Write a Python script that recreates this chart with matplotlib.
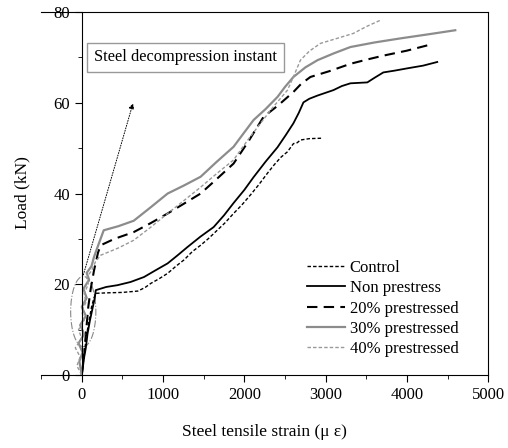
import numpy as np
import matplotlib.pyplot as plt
from matplotlib.patches import Ellipse
from matplotlib.ticker import MultipleLocator

plt.rcParams['font.family'] = ['Liberation Serif', 'DejaVu Serif']

# strain (micro-strain) vs load (kN)
control_x = [0, 20, 40, 60, 90, 120, 150, 172, 300, 500, 690, 780, 850, 950, 1056, 1160, 1260,
             1360, 1462, 1560, 1660, 1760, 1867, 1970, 2080, 2180, 2285, 2370, 2450, 2530,
             2604, 2650, 2690, 2800, 2960]
control_y = [0, 3, 6, 9, 12, 15, 17, 18, 18.1, 18.2, 18.5, 19.3, 20.2, 21.2, 22.4, 24, 25.4,
             27.2, 28.6, 30.1, 31.8, 33.5, 35.6, 37.5, 39.8, 42, 44.5, 46.4, 48, 49.2,
             51, 51.2, 51.8, 52.1, 52.2]

nonpre_x = [0, 15, 30, 50, 70, 100, 130, 160, 172, 300, 440, 600, 766, 900, 1056, 1180, 1300,
            1460, 1622, 1750, 1867, 2000, 2113, 2260, 2408, 2510, 2604, 2670, 2727, 2800,
            2900, 3096, 3200, 3305, 3513, 3600, 3710, 3850, 4005, 4200, 4373]
nonpre_y = [0, 2, 4, 6, 9, 12, 14.5, 17, 18.7, 19.4, 19.8, 20.5, 21.6, 23, 24.6, 26.4, 28.2,
            30.5, 32.6, 35.2, 37.9, 40.8, 43.6, 47, 50.2, 52.9, 55.5, 57.8, 60.1, 60.9,
            61.6, 62.8, 63.7, 64.3, 64.5, 65.5, 66.7, 67.1, 67.6, 68.2, 69]

pre20_x = [0, 20, 40, 60, 80, 110, 150, 200, 233, 400, 639, 850, 1056, 1260, 1462, 1660,
           1867, 2050, 2236, 2420, 2604, 2700, 2813, 3050, 3305, 3500, 3710, 4000, 4324]
pre20_y = [0, 3, 7, 11, 15, 19, 23, 27, 28.6, 30, 31.5, 33.5, 35.6, 37.8, 40, 43.2,
           46.6, 51.5, 56.9, 59.5, 62.4, 64.2, 65.7, 67, 68.6, 69.5, 70.4, 71.5, 73]

pre30_x = [0, -30, 10, -40, 30, -20, 50, 0, 60, 20, 90, 60, 120, 150, 200, 270, 450, 639, 850,
           1056, 1260, 1462, 1660, 1867, 2000, 2113, 2260, 2408, 2500, 2604, 2750, 2900,
           3100, 3305, 3600, 3919, 4300, 4595]
pre30_y = [0, 3, 5, 7, 9, 11, 13, 15, 17, 19, 21, 22.5, 24, 26, 28.5, 31.9, 32.8, 34, 37,
           40, 41.8, 43.7, 47, 50.3, 53.5, 56.2, 58.6, 61.3, 63.5, 65.7, 67.8, 69.4,
           70.9, 72.3, 73.3, 74.2, 75.2, 76]

pre40_x = [0, -60, -20, -80, 0, -40, 30, 0, 50, 30, 80, 60, 120, 170, 233, 450, 639, 850,
           1056, 1260, 1462, 1660, 1867, 2030, 2199, 2360, 2531, 2610, 2690, 2800, 2936,
           3140, 3341, 3500, 3673]
pre40_y = [0, 2, 4, 6, 8, 10, 12, 14, 16, 18, 20, 21.5, 23, 25, 26.4, 28, 29.7, 32.6,
           35.6, 38.5, 41.4, 44.4, 47.4, 51.5, 55.5, 59.2, 62.8, 66, 69.4, 71.4, 73.1,
           74.2, 75.3, 76.8, 78.2]

fig = plt.figure(figsize=(5.08, 4.48), dpi=100)
ax = fig.add_axes([0.081, 0.163, 0.88, 0.81])

ax.plot(control_x, control_y, color='black', lw=1.0, ls=(0, (2.5, 1.5)), label='Control')
ax.plot(nonpre_x, nonpre_y, color='black', lw=1.3, ls='-', label='Non prestress')
ax.plot(pre20_x, pre20_y, color='black', lw=1.5, ls=(0, (5, 3)), label='20% prestressed')
ax.plot(pre30_x, pre30_y, color='#8c8c8c', lw=1.6, ls='-', label='30% prestressed')
ax.plot(pre40_x, pre40_y, color='#999999', lw=1.0, ls=(0, (2.5, 1.5)), label='40% prestressed')

# annotation: ellipse around initial stage + dotted arrow + boxed text
ax.add_patch(Ellipse((18, 14), 310, 15.5, fill=False, ec='#888888', lw=0.8, ls='-.'))
ax.annotate('', xy=(640, 60.5), xytext=(10, 21.5),
            arrowprops=dict(arrowstyle='-|>', color='black', lw=0.7, ls=':',
                            mutation_scale=8))
ax.text(150, 70, 'Steel decompression instant', fontsize=11.8, va='center', ha='left',
        bbox=dict(boxstyle='square,pad=0.42', fc='white', ec='#999999', lw=1.0))

ax.set_xlim(-500, 5000)
ax.set_ylim(0, 80)
ax.spines['left'].set_position(('data', 0))
ax.xaxis.set_major_locator(MultipleLocator(1000))
ax.xaxis.set_minor_locator(MultipleLocator(500))
ax.yaxis.set_major_locator(MultipleLocator(20))
ax.yaxis.set_minor_locator(MultipleLocator(10))
ax.tick_params(which='both', direction='out', labelsize=12)
ax.tick_params(which='major', length=5)
ax.tick_params(which='minor', length=3)
ax.set_xticks([0, 1000, 2000, 3000, 4000, 5000])

fig.text(0.045, 0.57, 'Load (kN)', rotation=90, fontsize=12.5, ha='center', va='center')
fig.text(0.52, 0.035, 'Steel tensile strain (\u03bc \u03b5)', fontsize=12.5,
         ha='center', va='center')

ax.legend(loc='upper left', bbox_to_anchor=(0.575, 0.34), frameon=False, fontsize=12,
          handlelength=2.3, handletextpad=0.3, labelspacing=0.26, borderpad=0)

fig.savefig('out.png', dpi=100)
